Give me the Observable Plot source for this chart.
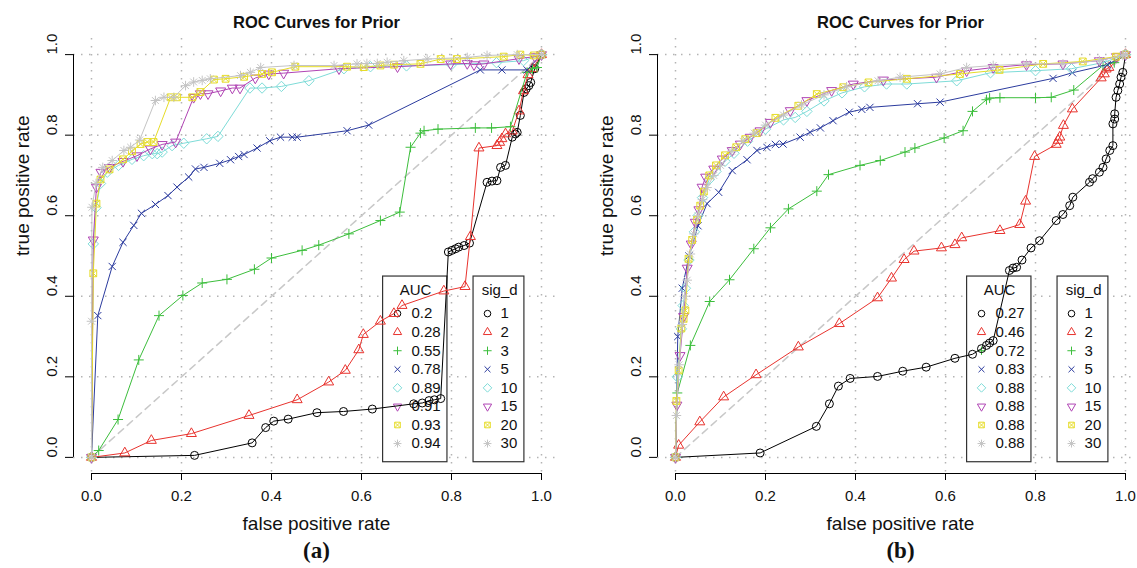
<!DOCTYPE html>
<html><head><meta charset="utf-8">
<script src="https://cdn.jsdelivr.net/npm/d3@7"></script>
<script src="https://cdn.jsdelivr.net/npm/@observablehq/plot@0.6"></script>
<style>
html,body{margin:0;padding:0;background:#fff;}
#wrap{position:relative;width:1137px;height:568px;overflow:hidden;background:#fff;}
.panel{position:absolute;top:0;width:568px;height:568px;}
</style></head>
<body><div id="wrap"><div class="panel" id="pa" style="left:0px"></div><div class="panel" id="pb" style="left:584px"></div></div>
<script>
// ---------- data ----------
const sigD = ["1", "2", "3", "5", "10", "15", "20", "30"];
const aucA = ["0.2", "0.28", "0.55", "0.78", "0.89", "0.91", "0.93", "0.94"];
const aucB = ["0.27", "0.46", "0.72", "0.83", "0.88", "0.88", "0.88", "0.88"];
const colors = ["#000000", "#E8332E", "#3CBE3C", "#2B3B9E", "#7EDCD8", "#B044B4", "#E6DC28", "#C4C4C4"];
const ticks = [0, 0.2, 0.4, 0.6, 0.8, 1.0];
const chance = [[0, 0], [1, 1]];

// panel (a): [false positive rate, true positive rate]
const a1 = [[0,0],[0.229,0.005],[0.357,0.036],[0.387,0.074],[0.405,0.090],[0.437,0.095],[0.501,0.111],[0.56,0.114],[0.624,0.120],[0.716,0.133],[0.735,0.135],[0.75,0.141],[0.762,0.143],[0.776,0.146],[0.793,0.51],[0.801,0.514],[0.809,0.518],[0.816,0.522],[0.828,0.526],[0.84,0.532],[0.879,0.683],[0.89,0.686],[0.901,0.687],[0.909,0.72],[0.92,0.725],[0.935,0.795],[0.942,0.803],[0.946,0.807],[0.953,0.849],[0.961,0.906],[0.966,0.915],[0.972,0.923],[0.976,0.931],[0.985,0.965],[1,1]];
const a2 = [[0,0],[0.074,0.011],[0.133,0.042],[0.222,0.059],[0.35,0.104],[0.457,0.143],[0.527,0.187],[0.564,0.216],[0.594,0.267],[0.604,0.305],[0.642,0.338],[0.672,0.357],[0.69,0.377],[0.783,0.413],[0.83,0.424],[0.842,0.548],[0.861,0.768],[0.901,0.774],[0.907,0.782],[0.912,0.791],[0.92,0.803],[0.935,0.81],[0.95,0.86],[0.96,0.91],[0.97,0.95],[0.98,0.965],[1,1]];
const a3 = [[0,0],[0.016,0.017],[0.059,0.094],[0.105,0.242],[0.15,0.352],[0.203,0.402],[0.246,0.433],[0.301,0.442],[0.362,0.467],[0.4,0.495],[0.468,0.514],[0.505,0.527],[0.572,0.555],[0.642,0.588],[0.685,0.609],[0.709,0.77],[0.731,0.805],[0.739,0.811],[0.77,0.815],[0.853,0.818],[0.889,0.818],[0.931,0.821],[0.968,0.956],[0.98,0.965],[0.99,0.968],[1,1]];
const a4 = [[0,0],[0.014,0.352],[0.046,0.474],[0.07,0.534],[0.094,0.576],[0.111,0.606],[0.142,0.628],[0.17,0.65],[0.19,0.671],[0.216,0.696],[0.231,0.716],[0.25,0.72],[0.285,0.73],[0.309,0.739],[0.327,0.747],[0.339,0.752],[0.368,0.768],[0.396,0.786],[0.42,0.795],[0.446,0.795],[0.457,0.795],[0.568,0.811],[0.616,0.825],[0.864,0.962],[0.912,0.962],[0.968,0.962],[1,1]];
const a5 = [[0,0],[0.004,0.53],[0.01,0.62],[0.02,0.68],[0.035,0.708],[0.06,0.725],[0.09,0.74],[0.116,0.749],[0.135,0.754],[0.146,0.754],[0.157,0.758],[0.179,0.774],[0.205,0.78],[0.256,0.791],[0.281,0.797],[0.352,0.917],[0.379,0.917],[0.422,0.921],[0.483,0.935],[0.561,0.965],[0.62,0.97],[0.7,0.972],[0.8,0.975],[0.9,0.98],[0.96,0.985],[1,1]];
const a6 = [[0,0],[0.004,0.54],[0.011,0.671],[0.021,0.708],[0.04,0.72],[0.07,0.735],[0.101,0.749],[0.131,0.766],[0.157,0.777],[0.187,0.783],[0.227,0.894],[0.242,0.903],[0.259,0.903],[0.287,0.91],[0.313,0.917],[0.33,0.917],[0.364,0.942],[0.394,0.952],[0.427,0.954],[0.55,0.965],[0.68,0.97],[0.798,0.977],[0.835,0.978],[0.85,0.975],[0.872,0.977],[0.95,0.99],[0.985,0.995],[1,1]];
const a7 = [[0,0],[0.004,0.457],[0.011,0.63],[0.02,0.69],[0.04,0.715],[0.07,0.74],[0.09,0.76],[0.109,0.778],[0.124,0.783],[0.138,0.783],[0.176,0.894],[0.19,0.894],[0.224,0.894],[0.242,0.907],[0.272,0.938],[0.298,0.94],[0.339,0.945],[0.379,0.952],[0.401,0.956],[0.453,0.97],[0.568,0.97],[0.605,0.969],[0.642,0.973],[0.672,0.975],[0.731,0.977],[0.776,0.989],[0.812,0.989],[0.916,0.995],[0.953,1.0],[0.983,0.998],[1,1]];
const a8 = [[0,0],[0,0.338],[0.001,0.621],[0.01,0.68],[0.025,0.72],[0.046,0.737],[0.072,0.762],[0.087,0.77],[0.107,0.788],[0.142,0.886],[0.161,0.894],[0.183,0.894],[0.209,0.923],[0.227,0.932],[0.246,0.936],[0.264,0.94],[0.331,0.948],[0.353,0.956],[0.376,0.968],[0.45,0.973],[0.539,0.973],[0.59,0.977],[0.612,0.978],[0.635,0.978],[0.657,0.981],[0.694,0.985],[0.746,0.989],[0.835,0.993],[0.879,0.998],[0.946,1.0],[1,1]];

// panel (b)
const b1 = [[0,0],[0.188,0.011],[0.313,0.077],[0.342,0.133],[0.362,0.177],[0.388,0.196],[0.449,0.201],[0.505,0.214],[0.557,0.224],[0.621,0.246],[0.66,0.256],[0.68,0.27],[0.691,0.278],[0.698,0.284],[0.706,0.29],[0.742,0.464],[0.75,0.47],[0.758,0.472],[0.77,0.49],[0.79,0.52],[0.809,0.538],[0.846,0.588],[0.861,0.603],[0.876,0.625],[0.883,0.646],[0.92,0.683],[0.927,0.692],[0.942,0.708],[0.95,0.72],[0.957,0.741],[0.965,0.762],[0.972,0.774],[0.972,0.828],[0.976,0.84],[0.976,0.853],[0.979,0.894],[0.983,0.911],[0.987,0.927],[0.99,0.944],[0.994,0.956],[1,1]];
const b2 = [[0,0],[0.007,0.03],[0.054,0.088],[0.107,0.15],[0.179,0.205],[0.273,0.274],[0.364,0.332],[0.449,0.396],[0.48,0.445],[0.508,0.491],[0.53,0.512],[0.591,0.52],[0.621,0.528],[0.636,0.545],[0.721,0.563],[0.765,0.578],[0.778,0.636],[0.798,0.747],[0.846,0.777],[0.85,0.787],[0.854,0.795],[0.862,0.824],[0.882,0.865],[0.946,0.942],[0.953,0.952],[0.957,0.964],[0.963,0.968],[1,1]];
const b3 = [[0,0],[0.004,0.16],[0.033,0.278],[0.076,0.387],[0.12,0.441],[0.174,0.518],[0.211,0.57],[0.251,0.617],[0.314,0.661],[0.34,0.702],[0.41,0.725],[0.455,0.737],[0.51,0.758],[0.532,0.768],[0.597,0.793],[0.639,0.811],[0.66,0.859],[0.691,0.888],[0.698,0.892],[0.721,0.893],[0.8,0.893],[0.835,0.894],[0.885,0.912],[0.95,0.973],[0.975,0.98],[1,1]];
const b4 = [[0,0],[0.005,0.3],[0.015,0.42],[0.03,0.5],[0.05,0.575],[0.07,0.63],[0.096,0.658],[0.126,0.712],[0.159,0.739],[0.181,0.762],[0.203,0.77],[0.222,0.777],[0.239,0.778],[0.277,0.795],[0.299,0.807],[0.322,0.818],[0.35,0.836],[0.386,0.857],[0.414,0.864],[0.432,0.869],[0.538,0.878],[0.588,0.882],[0.839,0.941],[0.882,0.955],[0.96,0.975],[1,1]];
const b5 = [[0,0],[0.004,0.2],[0.013,0.319],[0.017,0.377],[0.022,0.42],[0.03,0.49],[0.042,0.56],[0.05,0.6],[0.06,0.645],[0.075,0.69],[0.09,0.71],[0.11,0.735],[0.13,0.755],[0.16,0.785],[0.2,0.815],[0.24,0.838],[0.266,0.844],[0.292,0.859],[0.33,0.885],[0.37,0.905],[0.42,0.92],[0.469,0.927],[0.514,0.927],[0.625,0.935],[0.7,0.955],[0.8,0.96],[0.88,0.965],[0.95,0.98],[1,1]];
const b6 = [[0,0],[0.003,0.13],[0.01,0.253],[0.018,0.35],[0.026,0.47],[0.035,0.53],[0.044,0.584],[0.052,0.615],[0.059,0.671],[0.067,0.696],[0.085,0.716],[0.104,0.741],[0.126,0.762],[0.144,0.778],[0.166,0.795],[0.188,0.811],[0.211,0.832],[0.255,0.861],[0.292,0.886],[0.347,0.911],[0.395,0.927],[0.462,0.937],[0.58,0.944],[0.647,0.96],[0.706,0.968],[0.78,0.975],[0.861,0.977],[0.942,0.985],[0.98,0.995],[1,1]];
const b7 = [[0,0],[0.002,0.14],[0.007,0.216],[0.013,0.32],[0.018,0.344],[0.022,0.365],[0.029,0.493],[0.037,0.54],[0.048,0.59],[0.055,0.625],[0.063,0.66],[0.075,0.7],[0.09,0.725],[0.11,0.75],[0.135,0.77],[0.155,0.79],[0.18,0.805],[0.222,0.843],[0.273,0.873],[0.314,0.902],[0.373,0.919],[0.429,0.931],[0.514,0.94],[0.632,0.952],[0.72,0.962],[0.817,0.977],[0.905,0.983],[0.979,0.995],[1,1]];
const b8 = [[0,0],[0.002,0.104],[0.008,0.23],[0.015,0.33],[0.02,0.4],[0.026,0.44],[0.033,0.505],[0.041,0.555],[0.05,0.6],[0.06,0.64],[0.07,0.67],[0.085,0.7],[0.1,0.725],[0.125,0.76],[0.15,0.785],[0.175,0.805],[0.2,0.825],[0.24,0.85],[0.28,0.875],[0.33,0.9],[0.38,0.92],[0.45,0.935],[0.499,0.944],[0.588,0.952],[0.647,0.968],[0.706,0.973],[0.78,0.977],[0.861,0.977],[0.942,0.985],[0.994,0.998],[1,1]];

// ---------- symbols (R pch 1..8) ----------
const rad = s => Math.sqrt(s / Math.PI);
const symbols = [
  {draw(c, s) { const r = rad(s); c.moveTo(r, 0); c.arc(0, 0, r, 0, 2 * Math.PI); }},
  {draw(c, s) { const r = rad(s); c.moveTo(0, -1.45 * r); c.lineTo(1.25 * r, 0.72 * r); c.lineTo(-1.25 * r, 0.72 * r); c.closePath(); }},
  {draw(c, s) { const r = rad(s) * 1.25; c.moveTo(-r, 0); c.lineTo(r, 0); c.moveTo(0, -r); c.lineTo(0, r); }},
  {draw(c, s) { const r = rad(s) * 0.9; c.moveTo(-r, -r); c.lineTo(r, r); c.moveTo(-r, r); c.lineTo(r, -r); }},
  {draw(c, s) { const r = rad(s) * 1.3; c.moveTo(0, -r); c.lineTo(r, 0); c.lineTo(0, r); c.lineTo(-r, 0); c.closePath(); }},
  {draw(c, s) { const r = rad(s); c.moveTo(0, 1.45 * r); c.lineTo(1.25 * r, -0.72 * r); c.lineTo(-1.25 * r, -0.72 * r); c.closePath(); }},
  {draw(c, s) { const r = rad(s) * 0.85; c.rect(-r, -r, 2 * r, 2 * r); c.moveTo(-r, -r); c.lineTo(r, r); c.moveTo(-r, r); c.lineTo(r, -r); }},
  {draw(c, s) { const r = rad(s) * 1.2, q = rad(s) * 0.85; c.moveTo(-r, 0); c.lineTo(r, 0); c.moveTo(0, -r); c.lineTo(0, r); c.moveTo(-q, -q); c.lineTo(q, q); c.moveTo(-q, q); c.lineTo(q, -q); }}
];

// ---------- layout constants ----------
const DOM = [-0.04, 1.04];
const FONT = "'Liberation Sans', Arial, Helvetica, sans-serif";
const LEG = {top: 0.449, bottom: -0.012, titleY: 0.414, row0: 0.357, step: 0.0461,
  auc: {x1: 0.648, x2: 0.791, sym: 0.68, txt: 0.711, title: 0.72},
  sig: {x1: 0.849, x2: 0.962, sym: 0.88, txt: 0.909, title: 0.907}};

function legendMarks(box, title, labels) {
  const rows = labels.map((t, i) => ({t, i, y: LEG.row0 - i * LEG.step}));
  const m = [
    Plot.rect([{x1: box.x1, x2: box.x2, y1: LEG.bottom, y2: LEG.top}], {x1: "x1", x2: "x2", y1: "y1", y2: "y2", fill: "white", stroke: "#333", strokeWidth: 1.2}),
    Plot.text([{x: box.title, y: LEG.titleY, t: title}], {x: "x", y: "y", text: "t", fontSize: 15, fill: "#111"}),
    Plot.text(rows, {x: () => box.txt, y: "y", text: "t", textAnchor: "start", fontSize: 15, fill: "#111"})
  ];
  rows.forEach((r, i) => m.push(Plot.dot([r], {x: () => box.sym, y: "y", symbol: symbols[i], r: 3.3, stroke: colors[i], fill: "none", strokeWidth: 1})));
  return m;
}

function panel(series, aucLabels, caption) {
  const marks = [
    Plot.gridX(ticks, {stroke: "#b4b4b4", strokeOpacity: 1, strokeWidth: 1.5, strokeDasharray: "1.5,6.5"}),
    Plot.gridY(ticks, {stroke: "#b4b4b4", strokeOpacity: 1, strokeWidth: 1.5, strokeDasharray: "1.5,6.5"}),
    Plot.line(chance, {stroke: "#c8c8c8", strokeWidth: 1.5, strokeDasharray: "7,5"}),
    ...legendMarks(LEG.auc, "AUC", aucLabels),
    ...legendMarks(LEG.sig, "sig_d", sigD)
  ];
  series.forEach((s, i) => {
    marks.push(Plot.line(s, {stroke: colors[i], strokeWidth: 1}));
    marks.push(Plot.dot(s, {x: d => d[0], y: d => d[1], symbol: symbols[i], r: 4, stroke: colors[i], fill: "none", strokeWidth: 1}));
  });
  marks.push(
    Plot.ruleX([{x: DOM[0], y1: ticks[0], y2: ticks[ticks.length - 1]}], {x: "x", y1: "y1", y2: "y2", stroke: "black", strokeWidth: 1}),
    Plot.ruleY([{y: DOM[0], x1: ticks[0], x2: ticks[ticks.length - 1]}], {y: "y", x1: "x1", x2: "x2", stroke: "black", strokeWidth: 1}),
    Plot.axisY(ticks, {tickSize: 8, fill: "none", label: null, stroke: "black"}),
    Plot.axisX(ticks, {tickSize: 7, fill: "none", label: null, stroke: "black"}),
    Plot.text(ticks, {y: d => d, frameAnchor: "left", lineAnchor: "middle", dx: -21, rotate: -90, text: d => d3.format(".1f")(d), fontSize: 15, fill: "#111"}),
    Plot.text(ticks, {x: d => d, frameAnchor: "bottom", lineAnchor: "middle", dy: 23, text: d => d3.format(".1f")(d), fontSize: 15, fill: "#111"}),
    Plot.text(["ROC Curves for Prior"], {frameAnchor: "top", lineAnchor: "middle", dy: -16, fontSize: 16.5, fontWeight: "bold", fill: "#111"}),
    Plot.text(["false positive rate"], {frameAnchor: "bottom", lineAnchor: "middle", dy: 50, fontSize: 19, fill: "#111"}),
    Plot.text(["true positive rate"], {frameAnchor: "left", lineAnchor: "middle", dx: -51, rotate: -90, fontSize: 19, fill: "#111"}),
    Plot.text([caption], {frameAnchor: "bottom", lineAnchor: "middle", dy: 77, fontSize: 23, fontWeight: "bold", fontFamily: "'Liberation Serif', 'Times New Roman', serif", fill: "#111"})
  );
  return Plot.plot({
    width: 568, height: 568,
    marginLeft: 73, marginRight: 9, marginTop: 38, marginBottom: 95,
    x: {domain: DOM}, y: {domain: DOM},
    style: {fontFamily: FONT, fontSize: "15px", background: "white", color: "black", overflow: "visible"},
    marks
  });
}

document.getElementById("pa").appendChild(panel([a1, a2, a3, a4, a5, a6, a7, a8], aucA, "(a)"));
document.getElementById("pb").appendChild(panel([b1, b2, b3, b4, b5, b6, b7, b8], aucB, "(b)"));
</script>
</body></html>
